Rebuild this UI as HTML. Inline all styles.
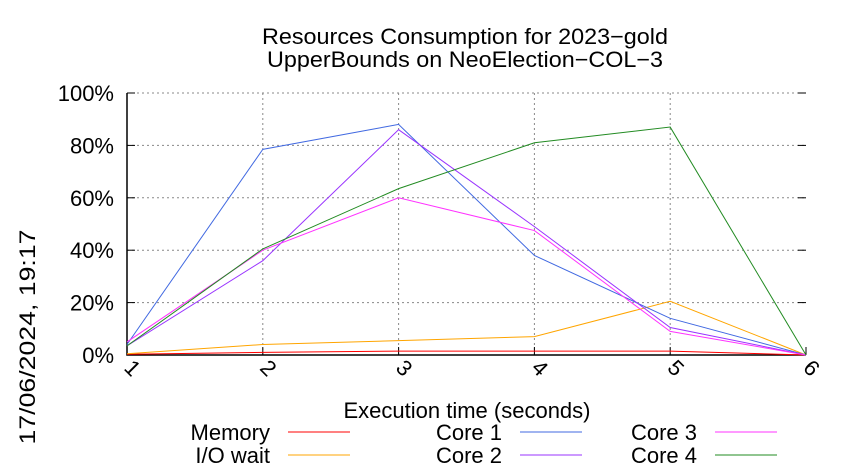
<!DOCTYPE html>
<html><head><meta charset="utf-8"><style>
body{margin:0;background:#fff}
svg{display:block;font-family:"Liberation Sans",sans-serif}
</style></head><body>
<svg id="c" width="850" height="475">
<text x="465" y="44" font-size="22" text-anchor="middle" textLength="406" lengthAdjust="spacingAndGlyphs">Resources Consumption for 2023−gold</text>
<text x="465" y="67" font-size="22" text-anchor="middle" textLength="396" lengthAdjust="spacingAndGlyphs">UpperBounds on NeoElection−COL−3</text>
<text transform="translate(35,337) rotate(-90)" font-size="22" text-anchor="middle" textLength="215" lengthAdjust="spacingAndGlyphs">17/06/2024, 19:17</text>
<text x="467" y="418" font-size="22" text-anchor="middle">Execution time (seconds)</text>
<g id="grid"></g><g id="series"></g><g id="legend"></g>
</svg>
<script>
const xCats=[1,2,3,4,5,6];
const yTicks=[0,20,40,60,80,100];
const seriesNames=["Memory","I/O wait","Core 1","Core 2","Core 3","Core 4"];
const seriesColors=["#ff0000","#ffa500","#4169e1","#9933ff","#ff33ff","#228b22"];
const memory=[0.3,1,1.5,1.5,1.5,0];
const ioWait=[0.5,4,5.5,7,20.5,0];
const core1=[4,78.5,88,38,14,0];
const core2=[3.5,36,86,49,10.5,0];
const core3=[5,40,60,47.5,9,0];
const core4=[3.5,40.5,63.5,81,87,0];
const allSeries=[memory,ioWait,core1,core2,core3,core4];
const L=127,R=806,T=93,B=355;
const xs=v=>L+(v-1)*(R-L)/5;
const ys=v=>B-v*(B-T)/100;
const NS="http://www.w3.org/2000/svg";
function mk(tag,attrs,parent){const e=document.createElementNS(NS,tag);for(const k in attrs)e.setAttribute(k,attrs[k]);parent.appendChild(e);return e;}
const g=document.getElementById('grid');
yTicks.forEach(t=>{
 const y=ys(t);
 if(t>0){const l=mk('line',{x1:L,x2:R,y1:y,y2:y,stroke:'#888','stroke-dasharray':'2,3'},g);
 
 }
 const tk=mk('line',{x1:L,x2:L+8,y1:y,y2:y,stroke:'#000'},g);
 
 
 const tr=mk('line',{x1:R-8,x2:R,y1:y,y2:y,stroke:'#000'},g);
 
 
 const tx=mk('text',{x:L-13,y:y+8,'font-size':22,'text-anchor':'end'},g);
 tx.textContent=t+'%';
 
 
});
xCats.forEach(c=>{
 const x=xs(c);
 if(c>1&&c<6){const l=mk('line',{x1:x,x2:x,y1:T,y2:B,stroke:'#888','stroke-dasharray':'2,3'},g);
 
 }
 const tk=mk('line',{x1:x,x2:x,y1:B,y2:B-8,stroke:'#000'},g);
 
 
 const tx=mk('text',{transform:`translate(${x-4},${B+14}) rotate(45)`,'font-size':22},g);
 tx.textContent=c;
 
 
});
const ax=mk('path',{d:`M${L},${T}V${B}H${R}`,fill:'none',stroke:'#000','stroke-width':1.5},g);


const s=document.getElementById('series');
allSeries.forEach((d,i)=>{
 const p=mk('polyline',{points:d.map((v,j)=>xs(xCats[j])+','+ys(v)).join(' '),fill:'none',stroke:seriesColors[i],'stroke-width':1},s);
 
 
});
const lg=document.getElementById('legend');
const cols=[270,502,697], rows=[432,455];
seriesNames.forEach((n,i)=>{
 const cx=cols[Math.floor(i/2)], cy=rows[i%2];
 const t=mk('text',{x:cx,y:cy+8,'font-size':22,'text-anchor':'end'},lg);
 t.textContent=n;
 
 
 const l=mk('line',{x1:cx+18,x2:cx+80,y1:cy,y2:cy,stroke:seriesColors[i]},lg);
 
 
});
</script>
</body></html>
